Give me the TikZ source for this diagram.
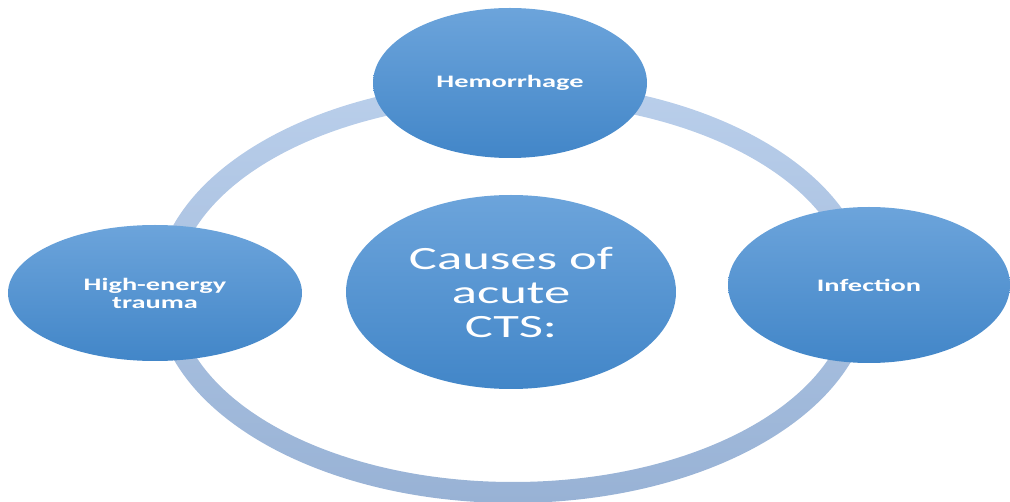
\documentclass[tikz,border=0pt]{standalone}
\usepackage{fontspec}
\setmainfont{Carlito}
\usetikzlibrary{shapes.geometric}
\definecolor{bubbletop}{RGB}{108,164,219}
\definecolor{bubblebot}{RGB}{66,134,200}
\definecolor{ringtop}{RGB}{186,207,235}
\definecolor{ringbot}{RGB}{152,178,213}
% horizontally stretched lettering
\newcommand{\wide}[1]{\scalebox{1.62}[1]{#1}}
\begin{document}
\begin{tikzpicture}[x=1pt,y=-1pt,
  bubble/.style={ellipse, inner sep=0pt, top color=bubbletop, bottom color=bubblebot,
                 text=white, align=center},
  smalllabel/.style={font=\fontsize{17.5}{18}\selectfont\bfseries},
  biglabel/.style={font=\fontsize{32.5}{34}\selectfont}]
\useasboundingbox (0,0) rectangle (1010,502);
% the cycle ring behind the bubbles
\shade[top color=ringtop, bottom color=ringbot, even odd rule]
  (513,292) ellipse [x radius=358pt, y radius=211pt]
  (513,292) ellipse [x radius=337pt, y radius=190pt];
% outer bubbles
\node[bubble, smalllabel, minimum width=274pt, minimum height=150pt] (hem) at (510,83) {\wide{Hemorrhage}};
\node[bubble, smalllabel, minimum width=294pt, minimum height=136pt] (trauma) at (155,293) {\wide{High-energy}\\\wide{trauma}};
\node[bubble, smalllabel, minimum width=282pt, minimum height=156pt] (infect) at (869,285) {\wide{Infection}};
% central bubble
\node[bubble, biglabel, minimum width=330pt, minimum height=194pt] (causes) at (511,292) {\wide{Causes of}\\\wide{acute}\\\wide{CTS:}};
\end{tikzpicture}
\end{document}
